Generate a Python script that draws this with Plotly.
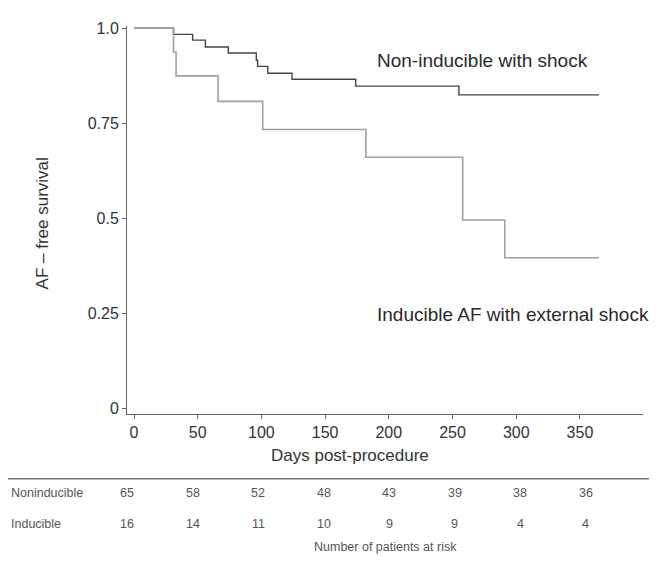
import plotly.graph_objects as go

# ---- data ----
non_days = [0, 31, 46, 56, 74, 96, 97, 105, 124, 174, 255, 365]
non_surv = [1.0, 0.984, 0.969, 0.951, 0.935, 0.916, 0.900, 0.882, 0.866, 0.848, 0.825, 0.825]

ind_days = [0, 31, 33, 66, 101, 182, 258, 291, 365]
ind_surv = [1.0, 0.9375, 0.875, 0.808, 0.734, 0.661, 0.496, 0.397, 0.397]

x_ticks = [0, 50, 100, 150, 200, 250, 300, 350]
y_tickvals = [0, 0.25, 0.5, 0.75, 1.0]
y_ticktext = ["0", "0.25", "0.5", "0.75", "1.0"]

risk_days = [0, 50, 100, 150, 200, 250, 300, 350]
risk_non = [65, 58, 52, 48, 43, 39, 38, 36]
risk_ind = [16, 14, 11, 10, 9, 9, 4, 4]

FONT = "Arial, Liberation Sans, sans-serif"

fig = go.Figure()
fig.add_trace(go.Scatter(x=non_days, y=non_surv, mode="lines", line_shape="hv",
                         line=dict(color="#444444", width=1.4), showlegend=False,
                         hoverinfo="skip"))
fig.add_trace(go.Scatter(x=ind_days, y=ind_surv, mode="lines", line_shape="hv",
                         line=dict(color="#a0a0a0", width=1.6), showlegend=False,
                         hoverinfo="skip"))
# invisible trace anchoring the risk-table axis
fig.add_trace(go.Scatter(x=[], y=[], xaxis="x2", showlegend=False, hoverinfo="skip"))

annotations = [
    dict(x=189.5, y=0.916, xref="x", yref="y", text="Non-inducible with shock",
         showarrow=False, xanchor="left", yanchor="middle",
         font=dict(family=FONT, size=19, color="#2a2a2a")),
    dict(x=189.5, y=0.248, xref="x", yref="y", text="Inducible AF with external shock",
         showarrow=False, xanchor="left", yanchor="middle",
         font=dict(family=FONT, size=19, color="#2a2a2a")),
    # axis titles
    dict(x=0.432, y=-0.1075, xref="paper", yref="paper", text="Days post-procedure",
         showarrow=False, xanchor="center", yanchor="middle",
         font=dict(family=FONT, size=17, color="#333333")),
    dict(x=-0.1636, y=0.49, xref="paper", yref="paper", text="AF – free survival",
         textangle=-90, showarrow=False, xanchor="center", yanchor="middle",
         font=dict(family=FONT, size=17, color="#333333")),
    # risk table labels
    dict(x=-0.229, y=-0.2047, xref="paper", yref="paper", text="Noninducible",
         showarrow=False, xanchor="left", yanchor="middle",
         font=dict(family=FONT, size=12.5, color="#555555")),
    dict(x=-0.229, y=-0.2825, xref="paper", yref="paper", text="Inducible",
         showarrow=False, xanchor="left", yanchor="middle",
         font=dict(family=FONT, size=12.5, color="#555555")),
    dict(x=0.5, y=-0.342, xref="paper", yref="paper", text="Number of patients at risk",
         showarrow=False, xanchor="center", yanchor="middle",
         font=dict(family=FONT, size=12.5, color="#555555")),
]
for d, n in zip(risk_days, risk_non):
    annotations.append(dict(x=d, y=-0.2047, xref="x2", yref="paper", text=str(n),
                            showarrow=False, xanchor="center", yanchor="middle",
                            font=dict(family=FONT, size=12.5, color="#555555")))
for d, n in zip(risk_days, risk_ind):
    annotations.append(dict(x=d, y=-0.2825, xref="x2", yref="paper", text=str(n),
                            showarrow=False, xanchor="center", yanchor="middle",
                            font=dict(family=FONT, size=12.5, color="#555555")))

fig.update_layout(
    width=648, height=547,
    margin=dict(l=119.3, r=13.3, t=12, b=140.7),
    paper_bgcolor="white", plot_bgcolor="white",
    font=dict(family=FONT, color="#333333"),
    xaxis=dict(range=[-5.5, 399.5], tickvals=x_ticks, showgrid=False, zeroline=False,
               showline=True, linecolor="#666666", linewidth=1,
               ticks="outside", ticklen=4, tickcolor="#666666",
               tickfont=dict(size=16, color="#333333")),
    xaxis2=dict(range=[-0.3, 393.9], overlaying="x", visible=False, showgrid=False),
    yaxis=dict(range=[-0.0137, 1.006], tickvals=y_tickvals, ticktext=y_ticktext,
               showgrid=False, zeroline=False, showline=True, linecolor="#666666",
               linewidth=1, ticks="outside", ticklen=4, tickcolor="#666666",
               tickfont=dict(size=16, color="#333333")),
    annotations=annotations,
    shapes=[dict(type="line", xref="paper", yref="paper", x0=-0.2373, x1=1.0116,
                 y0=-0.1666, y1=-0.1666, line=dict(color="#777777", width=1.5))],
)

fig.write_html("out.html")
